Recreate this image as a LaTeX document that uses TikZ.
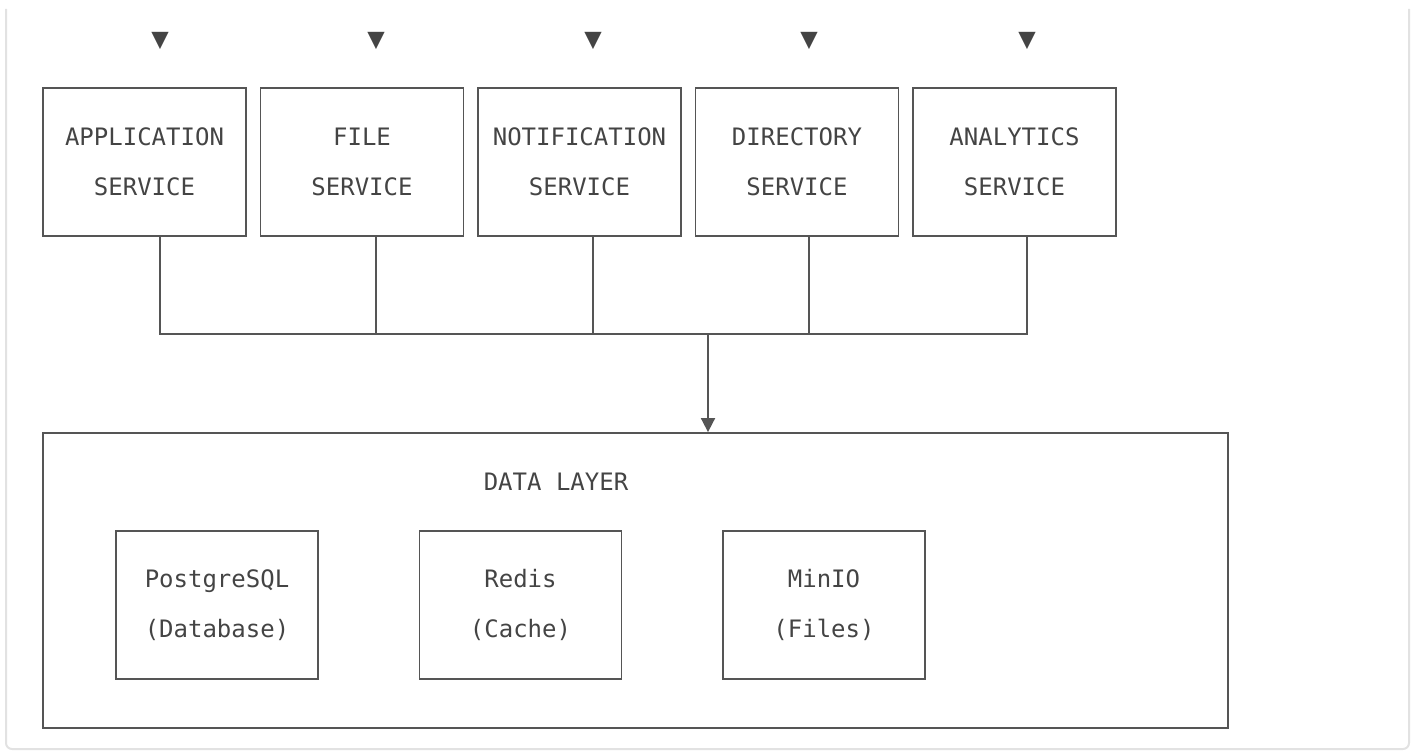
\documentclass[tikz,border=0pt]{standalone}
\usepackage{fontspec}
\newfontfamily\codefont{DejaVu Sans Mono}
\usetikzlibrary{arrows.meta}
\definecolor{inkgray}{HTML}{444444}
\definecolor{linegray}{HTML}{555555}
\definecolor{framegray}{HTML}{E2E2E2}

\begin{document}
\begin{tikzpicture}[x=1pt,y=-1pt,
	svc/.style={draw=linegray,line width=1.8pt,minimum width=203pt,minimum height=148pt,inner sep=0pt,align=center,text=inkgray,font=\codefont\fontsize{24}{50}\selectfont},
	store/.style={svc,minimum width=202pt},
	label text/.style={text=inkgray,inner sep=0pt,font=\codefont\fontsize{24}{50}\selectfont},
	wire/.style={draw=linegray,line width=1.8pt}]
			\useasboundingbox (0,0) rectangle (1416,752);
			\draw[framegray,line width=2pt,rounded corners=6pt] (6,9) -- (6,749) -- (1409,749) -- (1409,9);
			
			\node(app) at (144.5,162)[svc]{APPLICATION\\SERVICE};
			\node(file) at (362,162)[svc]{FILE\\SERVICE};
			\node(notif) at (579.5,162)[svc]{NOTIFICATION\\SERVICE};
			\node(dir) at (797,162)[svc]{DIRECTORY\\SERVICE};
			\node(stat) at (1014.5,162)[svc]{ANALYTICS\\SERVICE};
			
			\node(data) at (635.5,580.5)[draw=linegray,line width=1.8pt,minimum width=1185pt,minimum height=295pt]{};
			\node(datatitle) at (556,482)[label text]{DATA LAYER};
			\node(pg) at (217,605)[store]{PostgreSQL\\(Database)};
			\node(redis) at (520.5,605)[store]{Redis\\(Cache)};
			\node(minio) at (824,605)[store]{MinIO\\(Files)};
			
			\coordinate(hub) at (708,334);
			\foreach \s/\x in {app/160,file/376,notif/593,dir/809,stat/1027}{
				\node(\s-in) at (\x,41)[label text,font=\codefont\fontsize{29}{29}\selectfont]{▼};
				\draw[wire] (\x,0 |- \s.south) |- (hub);
			}
			\draw[wire,-{Triangle[length=14pt,width=14pt]}] (hub) -- (hub |- data.north);
		\end{tikzpicture}
\end{document}
